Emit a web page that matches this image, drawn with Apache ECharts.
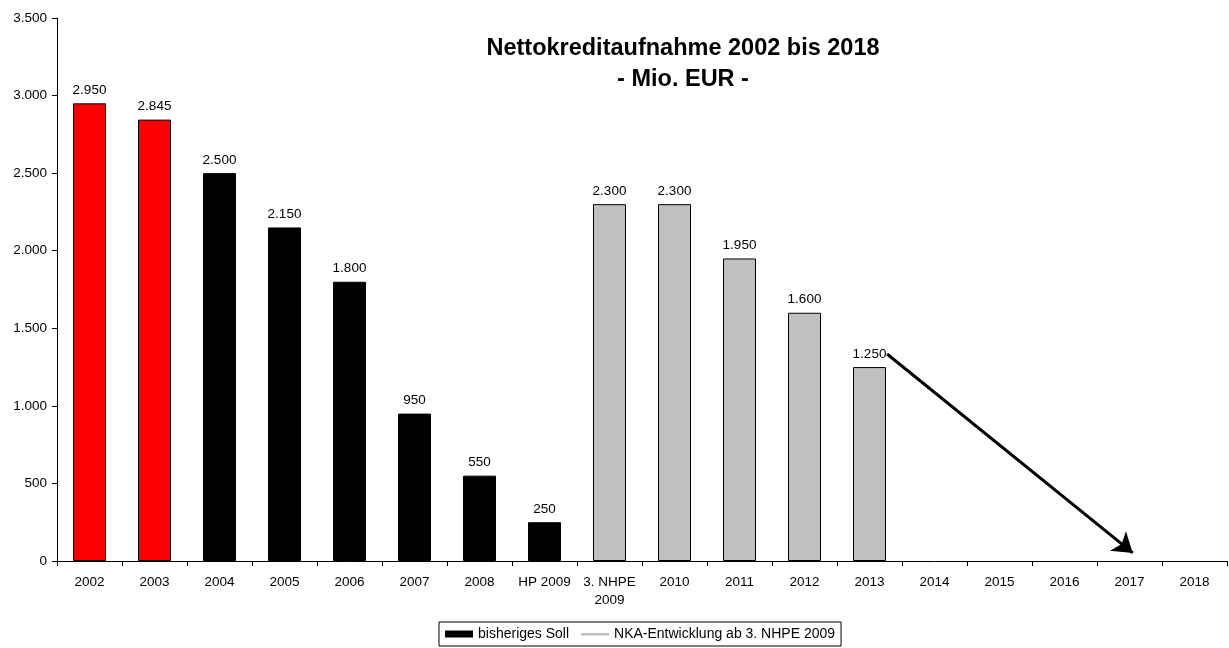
<!DOCTYPE html>
<html>
<head>
<meta charset="utf-8">
<script src="https://cdn.jsdelivr.net/npm/echarts@6/dist/echarts.min.js"></script>
<style>html,body{margin:0;padding:0;background:#fff;}#c{width:1229px;height:648px;}</style>
</head>
<body>
<div id="c"></div>
<script>
var categories = ['2002','2003','2004','2005','2006','2007','2008','HP 2009','3. NHPE\n2009','2010','2011','2012','2013','2014','2015','2016','2017','2018'];
var sollValues = [2950, 2845, 2500, 2150, 1800, 950, 550, 250, null, null, null, null, null, null, null, null, null, null];
var nkaValues = [null, null, null, null, null, null, null, null, 2300, 2300, 1950, 1600, 1250, null, null, null, null, null];
var yTicks = [0, 500, 1000, 1500, 2000, 2500, 3000, 3500];
// trend arrow: [category position, value] start and end
var arrowStart = [12.77, 1334];
var arrowEnd = [16.55, 52];

function deFmt(v) {
  var s = String(Math.round(v));
  return s.replace(/\B(?=(\d{3})+(?!\d))/g, '.');
}
var redIdx = [0, 1];

var chart = echarts.init(document.getElementById('c'));
var font = 'Liberation Sans, Arial, sans-serif';
chart.setOption({
  animation: false,
  backgroundColor: '#fff',
  textStyle: { fontFamily: font },
  title: {
    text: 'Nettokreditaufnahme 2002 bis 2018\n- Mio. EUR -',
    left: 678, top: 28, textAlign: 'center',
    textStyle: { fontFamily: font, fontSize: 23.5, fontWeight: 'bold', color: '#000', lineHeight: 31 }
  },
  legend: {
    left: 439, top: 622,
    padding: [5, 6, 5, 6],
    itemGap: 12,
    itemWidth: 28, itemHeight: 7,
    borderColor: '#000', borderWidth: 1,
    textStyle: { fontFamily: font, fontSize: 14, color: '#000' },
    data: [
      { name: 'bisheriges Soll', icon: 'rect', itemStyle: { color: '#000', borderWidth: 0 } },
      { name: 'NKA-Entwicklung ab 3. NHPE 2009', icon: 'path://M0,0L0,0M0,2.5L28,2.5L28,5L0,5ZM28,7L28,7', itemStyle: { color: '#c0c0c0', borderWidth: 0 } }
    ]
  },
  grid: { left: 57, right: 2, top: 18, bottom: 87, containLabel: false },
  xAxis: [{
    type: 'category',
    data: categories,
    boundaryGap: true,
    axisLine: { lineStyle: { color: '#000', width: 1 } },
    axisTick: { show: true, length: 5, alignWithLabel: false, lineStyle: { color: '#000' } },
    axisLabel: { interval: 0, fontFamily: font, fontSize: 13.5, color: '#000', margin: 12, lineHeight: 18 }
  }, {
    type: 'value', min: 0, max: categories.length, show: false
  }],
  yAxis: {
    type: 'value', min: 0, max: 3500, interval: 500,
    axisLine: { show: true, lineStyle: { color: '#000', width: 1 } },
    axisTick: { show: true, length: 5, lineStyle: { color: '#000' } },
    splitLine: { show: false },
    axisLabel: { fontFamily: font, fontSize: 13.5, color: '#000', margin: 10, formatter: function (v) { return deFmt(v); } }
  },
  series: [{
    name: 'bisheriges Soll',
    type: 'bar', stack: 's', barWidth: 33,
    data: sollValues.map(function (v, i) {
      return { value: v, itemStyle: { color: redIdx.indexOf(i) >= 0 ? '#ff0000' : '#000000' } };
    }),
    itemStyle: { borderColor: '#000', borderWidth: 1 },
    label: { show: true, position: 'top', distance: 6, fontFamily: font, fontSize: 13.5, color: '#000', formatter: function (p) { return deFmt(p.value); } }
  }, {
    name: 'NKA-Entwicklung ab 3. NHPE 2009',
    type: 'bar', stack: 's', barWidth: 33,
    data: nkaValues,
    itemStyle: { color: '#c0c0c0', borderColor: '#000', borderWidth: 1 },
    label: { show: true, position: 'top', distance: 6, fontFamily: font, fontSize: 13.5, color: '#000', formatter: function (p) { return deFmt(p.value); } }
  }, {
    name: 'trend',
    type: 'lines',
    coordinateSystem: 'cartesian2d',
    xAxisIndex: 1, yAxisIndex: 0,
    symbol: ['none', 'arrow'],
    symbolSize: 19,
    lineStyle: { color: '#000', width: 3, opacity: 1 },
    data: [{ coords: [arrowStart, arrowEnd] }],
    z: 5
  }]
});
</script>
</body>
</html>
